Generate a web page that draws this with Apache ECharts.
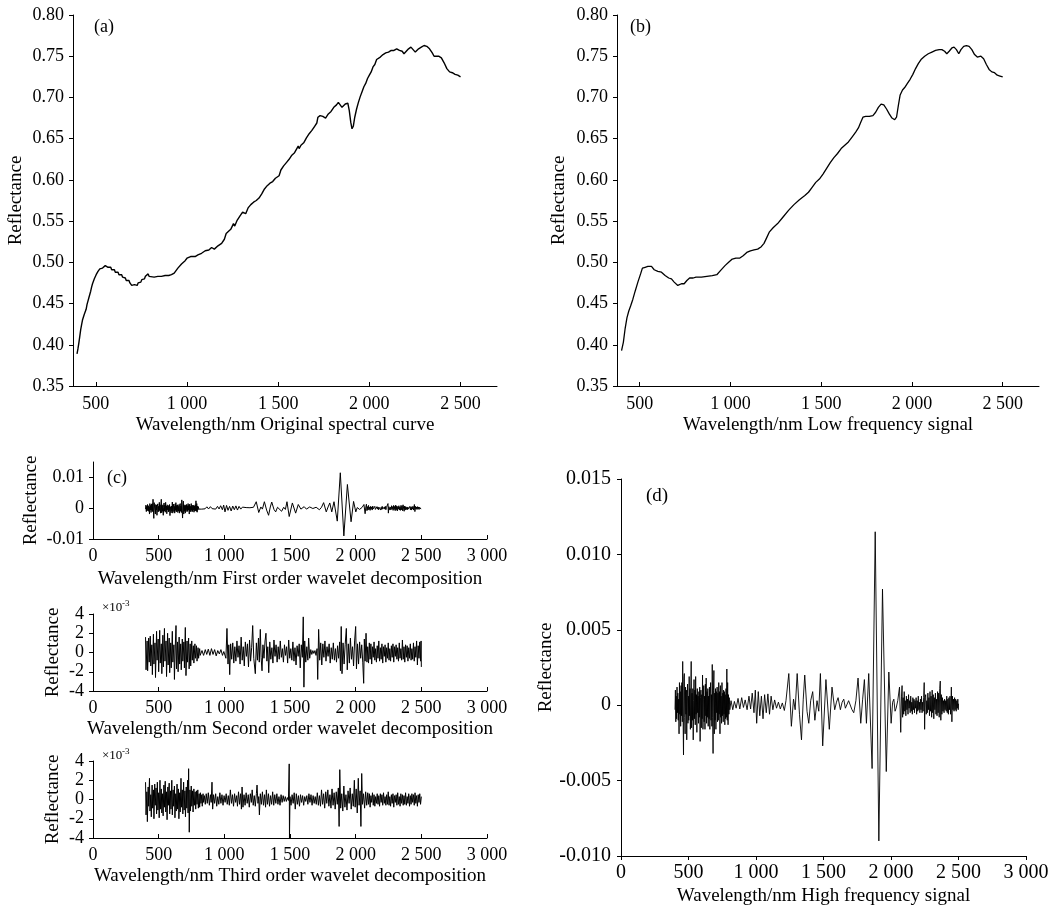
<!DOCTYPE html>
<html><head><meta charset="utf-8">
<script src="https://cdn.jsdelivr.net/npm/echarts@6/dist/echarts.min.js"></script>
<style>html,body{margin:0;padding:0;background:#fff}#chart{width:1055px;height:909px}</style>
</head><body><div id="chart"></div>
<script>
// ---------- DATA ----------
// (a) original spectral curve [wavelength nm, reflectance]
const originalCurve = [
[397,0.389],[402,0.395],[407,0.402],[412,0.410],[417,0.418],[422,0.424],[427,0.430],[432,0.432],[437,0.437],[442,0.440],[447,0.443],[452,0.449],[457,0.453],[462,0.457],[467,0.461],[472,0.465],[477,0.470],[482,0.474],[487,0.476],[492,0.480],[497,0.482],[502,0.485],[507,0.487],[512,0.489],[517,0.490],[522,0.492],[527,0.491],[532,0.494],[537,0.493],[542,0.495],[547,0.494],[552,0.496],[557,0.495],[562,0.497],[567,0.494],[572,0.495],[577,0.493],[582,0.494],[587,0.491],[592,0.492],[597,0.489],[602,0.491],[607,0.488],[612,0.489],[617,0.486],[622,0.488],[627,0.485],[632,0.486],[637,0.483],[642,0.485],[647,0.482],[652,0.483],[657,0.480],[662,0.481],[667,0.478],[672,0.480],[677,0.476],[682,0.478],[687,0.475],[692,0.476],[697,0.472],[702,0.474],[707,0.470],[712,0.473],[717,0.471],[722,0.474],[727,0.472],[732,0.475],[737,0.473],[742,0.477],[747,0.476],[752,0.479],[757,0.478],[762,0.481],[767,0.480],[772,0.483],[777,0.482],[782,0.484],[787,0.486],[792,0.483],[800,0.482],[820,0.482],[840,0.483],[860,0.483],[880,0.484],[900,0.484],[910,0.483],[915,0.485],[930,0.487],[950,0.493],[970,0.498],[990,0.502],[1000,0.505],[1010,0.504],[1020,0.507],[1030,0.505],[1045,0.507],[1060,0.509],[1080,0.511],[1100,0.514],[1120,0.515],[1135,0.518],[1150,0.516],[1170,0.520],[1190,0.523],[1205,0.528],[1215,0.535],[1225,0.537],[1240,0.540],[1255,0.547],[1262,0.544],[1275,0.551],[1290,0.556],[1305,0.561],[1315,0.563],[1322,0.559],[1335,0.566],[1350,0.570],[1365,0.573],[1380,0.575],[1395,0.578],[1410,0.583],[1425,0.589],[1440,0.593],[1455,0.596],[1470,0.598],[1485,0.602],[1495,0.604],[1505,0.605],[1515,0.612],[1530,0.617],[1545,0.621],[1560,0.625],[1575,0.630],[1590,0.633],[1600,0.635],[1610,0.641],[1615,0.638],[1625,0.642],[1640,0.645],[1655,0.651],[1670,0.656],[1685,0.660],[1700,0.665],[1712,0.669],[1718,0.676],[1730,0.678],[1745,0.677],[1760,0.675],[1775,0.680],[1790,0.683],[1805,0.688],[1820,0.691],[1830,0.694],[1840,0.692],[1850,0.688],[1860,0.686],[1868,0.692],[1875,0.690],[1882,0.693],[1890,0.684],[1898,0.670],[1905,0.662],[1912,0.665],[1920,0.676],[1930,0.686],[1940,0.694],[1950,0.701],[1960,0.707],[1970,0.713],[1980,0.717],[1990,0.723],[2000,0.727],[2010,0.731],[2020,0.737],[2030,0.740],[2040,0.746],[2050,0.746],[2060,0.749],[2075,0.752],[2090,0.754],[2105,0.755],[2120,0.757],[2135,0.757],[2150,0.759],[2165,0.757],[2180,0.756],[2190,0.753],[2200,0.755],[2215,0.759],[2228,0.761],[2240,0.758],[2252,0.755],[2260,0.754],[2270,0.759],[2285,0.761],[2300,0.763],[2315,0.762],[2330,0.759],[2345,0.754],[2355,0.750],[2365,0.749],[2380,0.750],[2395,0.748],[2410,0.742],[2425,0.735],[2440,0.731],[2455,0.730],[2470,0.728],[2485,0.727],[2500,0.725]
];
// (b) low frequency signal
const lowFreq = [
[400,0.393],[410,0.403],[420,0.420],[430,0.433],[440,0.441],[450,0.447],[455,0.447],[462,0.455],[475,0.465],[490,0.476],[505,0.486],[515,0.493],[530,0.494],[545,0.495],[555,0.497],[565,0.495],[580,0.491],[600,0.489],[620,0.488],[640,0.484],[660,0.481],[675,0.480],[690,0.476],[700,0.477],[710,0.472],[720,0.473],[730,0.474],[745,0.474],[760,0.478],[775,0.481],[785,0.483],[795,0.481],[810,0.482],[840,0.482],[870,0.483],[900,0.484],[925,0.485],[945,0.490],[970,0.496],[990,0.500],[1010,0.504],[1030,0.505],[1050,0.505],[1070,0.508],[1090,0.512],[1110,0.514],[1130,0.515],[1150,0.516],[1170,0.519],[1185,0.523],[1200,0.530],[1215,0.537],[1235,0.542],[1260,0.547],[1290,0.555],[1320,0.563],[1350,0.570],[1380,0.576],[1410,0.581],[1430,0.585],[1450,0.591],[1470,0.597],[1490,0.601],[1510,0.607],[1530,0.614],[1550,0.621],[1570,0.627],[1590,0.632],[1610,0.638],[1630,0.642],[1650,0.646],[1670,0.652],[1690,0.658],[1705,0.663],[1718,0.670],[1730,0.676],[1745,0.677],[1765,0.677],[1785,0.678],[1800,0.682],[1815,0.688],[1830,0.692],[1845,0.691],[1860,0.686],[1875,0.680],[1890,0.675],[1905,0.673],[1915,0.676],[1925,0.690],[1935,0.703],[1948,0.709],[1960,0.712],[1975,0.717],[1990,0.722],[2005,0.728],[2020,0.735],[2035,0.741],[2050,0.746],[2070,0.750],[2090,0.753],[2110,0.755],[2130,0.757],[2150,0.758],[2165,0.758],[2180,0.756],[2192,0.753],[2205,0.756],[2220,0.760],[2232,0.761],[2245,0.758],[2258,0.753],[2270,0.758],[2285,0.762],[2300,0.763],[2315,0.762],[2330,0.758],[2345,0.752],[2360,0.749],[2380,0.750],[2395,0.747],[2410,0.740],[2425,0.734],[2440,0.731],[2455,0.730],[2470,0.727],[2485,0.726],[2500,0.725]
];
// (c) first order = (d) high frequency signal, reflectance in units of 1e-3
const highFreqMilli = [
[400,-0.3],[403,1.0],[406,-1.1],[409,0.6],[412,-0.9],[415,1.2],[418,-0.5],[421,0.8],[424,-1.0],[427,0.4],[430,-1.9],[433,1.5],[436,-0.6],[439,0.9],[442,-1.4],[445,1.3],[448,-0.7],[451,1.5],[454,-1.1],[457,2.9],[460,-0.9],[463,-3.3],[466,1.8],[469,2.1],[472,-0.8],[475,-1.9],[478,1.2],[481,-0.6],[484,1.0],[487,-2.3],[490,0.5],[493,1.4],[496,-1.2],[499,0.6],[502,-1.0],[505,1.9],[508,-0.7],[511,1.1],[514,-1.6],[517,0.8],[520,2.9],[523,-1.5],[526,0.8],[529,-1.0],[532,1.1],[535,-2.3],[538,0.3],[541,1.7],[544,-0.9],[547,1.0],[550,-1.3],[553,1.9],[556,-0.6],[559,0.7],[562,-1.8],[565,1.1],[568,-0.5],[571,0.6],[574,-1.2],[577,0.9],[580,-0.8],[583,1.2],[586,-2.4],[589,0.5],[592,1.0],[595,-1.5],[598,0.7],[601,-0.9],[604,2.0],[607,-1.6],[610,0.4],[613,1.3],[616,-1.1],[619,0.6],[622,-1.6],[625,1.4],[628,-0.7],[631,1.8],[634,-1.2],[637,0.9],[640,-0.8],[643,1.1],[646,-1.4],[649,0.6],[652,-0.9],[655,1.2],[658,-1.6],[661,0.8],[664,1.5],[667,-1.0],[670,0.7],[673,-1.4],[676,2.7],[679,-0.8],[682,-3.2],[685,1.0],[688,2.3],[691,-1.9],[694,0.8],[697,-1.0],[700,1.1],[703,-1.6],[706,0.9],[709,-0.5],[712,1.2],[715,-1.1],[718,0.8],[721,-1.0],[724,1.5],[727,-0.6],[730,0.9],[733,-1.9],[736,1.3],[739,-0.8],[742,0.6],[745,-1.2],[748,1.5],[751,-0.7],[754,0.8],[757,-1.1],[760,1.0],[763,-0.6],[766,0.9],[769,-1.3],[772,0.7],[775,-0.9],[778,1.1],[781,-0.8],[784,2.4],[787,-1.0],[790,1.5],[793,-1.3],[796,0.7],[799,-0.6],[802,0.5],[806,-0.3],
[815,0.3],[828,-0.3],[840,0.25],[853,-0.2],[867,0.45],[880,-0.25],[894,0.5],[907,-0.15],[920,0.35],[934,-0.3],[948,0.6],[960,-0.25],[972,0.8],[985,-0.5],[995,1.0],[1005,-1.2],[1017,0.9],[1028,-0.7],[1040,0.6],[1052,-0.9],[1064,0.7],[1076,-0.5],[1088,0.75],[1100,-0.6],[1112,0.6],[1125,-0.3],[1138,0.35],[1152,-0.2],[1166,0.2],[1180,-0.25],[1195,0.15],[1210,-0.35],[1222,0.3],[1243,2.1],[1262,-1.4],[1278,0.4],[1290,-0.3],[1305,2.1],[1322,-0.6],[1337,-2.3],[1350,0.4],[1361,2.0],[1378,-0.4],[1391,-1.2],[1405,0.3],[1420,0.9],[1436,-1.0],[1452,0.3],[1465,-0.4],[1477,2.1],[1494,-2.7],[1518,1.7],[1543,-1.6],[1563,1.2],[1583,-0.3],[1596,0.2],[1608,0.5],[1625,-0.3],[1638,0.2],[1650,0.4],[1662,-0.2],[1674,-0.1],[1686,0.3],[1699,0.3],[1711,-0.3],[1724,-0.5],[1740,0.3],[1756,1.8],[1776,-1.2],[1790,0.4],[1803,1.7],[1818,-1.2],[1835,2.1],[1860,-4.2],[1883,11.5],[1910,-9.0],[1937,7.7],[1965,-4.4],[1984,2.2],[2001,-1.2],[2012,0.2],[2021,0.4],[2030,-0.4],[2038,-0.2],[2050,0.3],[2063,1.2],[2072,-1.8],[2078,0.6],
[2082,1.3],[2086,-0.8],[2090,0.5],[2094,-0.6],[2098,0.9],[2102,-0.4],[2106,0.3],[2110,-0.7],[2114,0.6],[2118,-0.3],[2122,0.4],[2126,-0.6],[2130,0.7],[2134,-0.2],[2138,0.3],[2142,-0.5],[2146,0.6],[2150,-0.4],[2154,0.2],[2158,-0.6],[2162,0.5],[2166,-0.3],[2170,0.4],[2174,-0.5],[2178,0.3],[2182,-0.2],[2186,0.5],[2190,-0.6],[2194,0.3],[2198,-0.4],[2202,0.6],[2206,-0.3],[2210,0.2],[2214,-0.5],[2218,0.4],[2222,-0.3],[2226,0.6],[2230,-0.5],[2234,0.2],[2238,-0.4],[2242,0.5],[2246,1.5],[2249,-1.6],[2253,0.5],[2257,0.7],[2261,-0.6],[2265,0.3],[2269,-0.5],[2273,0.8],[2277,-0.3],[2281,0.5],[2285,-0.7],[2289,0.9],[2293,-0.4],[2297,0.6],[2301,-0.8],[2305,1.0],[2309,-0.5],[2313,0.7],[2317,-0.9],[2321,0.5],[2325,-0.3],[2329,0.8],[2333,-0.6],[2337,0.4],[2341,-0.7],[2345,0.9],[2349,-0.5],[2353,0.8],[2357,-0.8],[2361,1.1],[2365,1.6],[2369,-1.0],[2373,0.7],[2377,-0.6],[2381,0.5],[2385,-0.4],[2389,0.3],[2393,-0.5],[2397,0.4],[2401,-0.3],[2405,0.3],[2409,-0.4],[2413,0.6],[2417,-0.5],[2421,0.4],[2425,-0.6],[2429,0.5],[2433,-0.3],[2437,0.6],[2441,-0.6],[2445,0.4],[2447,1.2],[2451,-1.1],[2455,0.6],[2459,-0.3],[2463,0.4],[2467,-0.4],[2471,0.5],[2475,-0.3],[2479,0.4],[2483,-0.4],[2487,0.3],[2491,-0.2],[2495,0.4],[2498,-0.3],[2500,0.1]
];
// (c) second order wavelet decomposition, x10^-3
const secondOrder = [
[400,1.6],[404,-1.8],[412,1.2],[416,-1.9],[424,1.5],[428,-1.0],[436,1.7],[440,-1.4],[448,0.8],[452,-2.3],[460,1.9],[464,-1.2],[472,1.0],[476,-2.6],[484,2.2],[488,-0.8],[496,1.4],[500,-2.0],[508,2.3],[512,-1.1],[520,0.9],[524,-2.2],[532,1.8],[536,-1.5],[544,2.5],[548,-0.9],[556,1.2],[560,-2.5],[568,2.0],[572,-1.3],[580,1.5],[584,-2.1],[592,1.0],[596,-1.6],[604,2.2],[608,-1.0],[616,0.8],[620,-2.8],[628,1.3],[632,2.8],[636,-1.7],[644,1.1],[648,-2.0],[656,1.6],[660,-1.2],[668,0.9],[672,-1.8],[680,1.4],[684,-0.9],[692,1.1],[696,-1.6],[703,2.6],[708,-2.4],[716,1.2],[720,-1.0],[728,1.5],[732,-1.7],[740,0.9],[744,-1.4],[752,1.2],[756,-0.8],[764,0.7],[768,-1.1],[776,0.9],[780,-0.6],[788,0.7],[792,-0.9],[800,0.5],[804,-0.6],[812,0.4],[816,-0.3],
[830,0.2],[842,-0.3],[855,0.3],[866,-0.2],[878,0.35],[890,-0.3],[902,0.4],[914,-0.2],[926,0.3],[938,-0.35],[950,0.2],[962,-0.15],[974,0.3],[986,-0.3],[996,0.1],
[1004,0.3],[1012,-0.6],[1020,2.5],[1028,-1.2],[1034,0.8],[1041,-2.3],[1048,0.9],[1056,-0.7],[1064,1.0],[1072,-1.1],[1080,0.6],[1088,-0.9],[1096,1.2],[1104,-0.5],[1112,0.7],[1120,-1.2],[1128,1.6],[1136,-0.8],[1144,0.6],[1152,-1.4],[1160,1.1],[1168,-0.4],[1176,0.9],[1184,-1.5],[1192,1.3],[1200,-0.9],[1208,0.5],[1216,2.8],[1224,-0.6],[1236,-2.2],[1244,1.0],[1252,-0.8],[1260,1.5],[1266,-1.0],[1274,2.4],[1280,-0.5],[1287,-1.9],[1294,0.8],[1302,-0.6],[1310,1.2],[1317,2.0],[1324,-0.9],[1331,0.6],[1338,-2.1],[1346,1.1],[1354,-0.7],[1362,0.5],[1370,-1.1],[1378,1.3],[1386,-0.4],[1394,0.8],[1402,-1.0],[1410,0.6],[1418,-0.7],[1426,1.2],[1434,-0.5],[1442,0.4],[1450,-1.0],[1458,0.8],[1466,-0.3],[1474,0.6],[1482,-1.1],[1490,1.3],[1498,-0.6],[1506,0.4],[1514,-0.8],[1522,1.1],[1530,-0.9],[1538,0.5],[1546,-1.3],[1554,0.7],[1562,-0.4],[1570,0.9],[1578,-1.6],[1586,0.8],[1594,-0.5],[1601,3.7],[1606,-3.6],[1612,1.2],[1620,-1.0],[1628,0.6],[1636,-0.8],[1642,1.5],[1650,-0.6],[1658,0.3],[1666,-0.2],[1674,0.2],[1682,-0.1],[1690,0.2],[1698,-0.3],[1706,0.4],[1711,-2.8],[1718,2.4],[1726,-0.8],[1734,1.0],[1742,-1.3],[1750,0.9],[1758,-0.5],[1766,1.2],[1774,-0.9],[1782,0.6],[1790,-0.4],[1798,0.9],[1806,-1.1],[1814,0.5],[1822,-0.7],[1830,1.0],[1838,-0.8],[1846,0.4],[1854,-1.0],[1862,0.7],[1870,-0.6],[1878,1.1],[1884,-1.9],[1890,2.7],[1896,-2.2],[1904,1.0],[1912,-1.2],[1920,0.8],[1929,2.5],[1936,-1.8],[1944,0.9],[1952,-1.1],[1960,1.5],[1968,-0.7],[1976,0.6],[1984,-1.4],[1992,1.2],[2000,2.7],[2006,-1.7],[2014,0.9],[2022,-1.2],[2030,1.1],[2038,-0.6],[2046,0.8],[2054,-1.0],[2061,-3.2],[2066,1.4],[2072,-0.9],[2079,2.0],[2086,-1.0],[2092,0.6],
[2098,-1.1],[2104,1.0],[2110,-0.7],[2116,0.9],[2122,-1.2],[2128,0.6],[2134,-0.5],[2140,1.1],[2146,-0.8],[2152,0.4],[2158,-1.0],[2164,0.7],[2170,-0.6],[2176,1.2],[2182,-0.9],[2188,0.5],[2194,-0.7],[2200,0.9],[2206,-1.1],[2212,0.6],[2218,-0.4],[2224,0.8],[2230,-1.0],[2236,0.5],[2242,-0.6],[2248,1.0],[2254,-0.8],[2260,0.4],[2266,-0.9],[2272,0.7],[2278,-0.5],[2284,0.9],[2290,-1.0],[2296,0.6],[2302,-0.4],[2308,0.8],[2314,-0.7],[2320,0.5],[2326,-0.9],[2332,1.0],[2338,-0.6],[2344,0.4],[2350,-0.8],[2356,1.3],[2362,-0.7],[2368,0.6],[2374,-1.0],[2380,0.8],[2386,-0.5],[2392,0.7],[2398,-0.9],[2404,0.5],[2410,-0.6],[2416,0.9],[2422,-0.8],[2428,0.4],[2434,-0.7],[2440,1.0],[2446,-0.9],[2452,0.6],[2458,-0.5],[2464,1.2],[2470,-1.3],[2476,0.7],[2482,-0.6],[2488,1.1],[2494,-0.9],[2498,1.2],[2500,-1.5]
];
// (c) third order wavelet decomposition, x10^-3
const thirdOrder = [
[400,1.8],[404,-1.6],[410,0.8],[414,-2.3],[420,1.3],[424,-0.7],[430,2.2],[434,-1.2],[440,0.5],[444,-1.8],[450,1.5],[454,-0.9],[460,1.0],[464,-2.0],[470,1.6],[474,-0.6],[480,1.2],[484,-1.5],[490,1.8],[494,-1.1],[500,0.7],[504,-1.9],[510,2.0],[514,-1.0],[520,1.1],[524,-1.4],[530,0.6],[534,-1.7],[540,1.5],[544,-0.8],[550,1.9],[554,-1.3],[560,0.8],[564,-2.1],[570,1.3],[574,-0.6],[580,1.7],[584,-1.5],[590,0.9],[594,-1.0],[600,2.0],[604,-1.6],[610,1.0],[614,-0.7],[620,1.4],[624,-1.9],[630,0.6],[634,-1.2],[640,1.6],[644,-1.0],[650,1.1],[654,-2.0],[660,0.7],[664,-1.3],[670,2.2],[674,-0.8],[680,1.0],[684,-1.5],[690,1.8],[694,-1.1],[700,0.9],[704,-1.8],[710,1.3],[714,-0.9],[720,2.0],[724,-1.4],[728,3.2],[733,-3.4],[738,1.0],[742,-1.2],[748,1.4],[752,-0.7],[758,0.9],[762,-1.3],[768,1.1],[772,-0.6],[778,0.8],[782,-1.0],[788,0.9],[792,-0.5],[798,1.0],[802,-0.9],[808,0.6],[812,-0.8],[818,0.7],[822,-0.4],[828,0.5],[832,-0.7],[838,0.6],[842,-0.3],[848,0.4],
[855,-0.5],[862,0.6],[870,-0.4],[878,0.7],[886,-0.6],[894,0.5],[900,-0.3],[906,1.8],[911,-1.0],[918,0.5],[926,-0.4],[934,0.6],[942,-0.7],[950,0.3],[958,-0.5],[966,0.7],[974,-0.4],[982,0.5],[990,-0.6],[998,0.4],[1006,-0.3],[1014,0.6],[1022,-0.5],[1030,0.4],[1038,-0.6],[1046,1.0],[1054,-0.4],[1062,0.5],[1070,-0.7],[1078,0.6],[1086,-0.3],[1094,0.4],[1100,-0.7],[1108,0.8],[1116,-0.5],[1124,0.6],[1130,-1.0],[1135,1.3],[1142,-0.8],[1150,0.5],[1158,-0.6],[1166,0.7],[1174,-0.4],[1182,0.5],[1190,-0.8],[1198,0.6],[1206,-0.3],[1212,1.0],[1220,-0.6],[1228,0.4],[1236,-0.7],[1244,0.6],[1249,1.5],[1256,-0.4],[1262,0.3],[1267,-1.6],[1274,0.6],[1282,-0.5],[1290,0.8],[1298,-0.6],[1306,0.5],[1314,-0.8],[1320,1.0],[1328,-0.5],[1336,0.6],[1344,-0.7],[1352,0.4],[1360,-0.5],[1368,0.8],[1376,-0.6],[1384,0.5],[1392,-0.4],[1400,0.6],[1408,-0.5],[1416,0.3],[1424,-0.6],[1432,0.5],[1440,-0.3],[1448,0.4],[1456,-0.2],[1464,0.3],[1472,-0.2],[1480,0.2],[1488,-0.1],[1494,3.7],[1496,-4.0],[1500,0.3],
[1508,-0.6],[1516,0.5],[1524,-0.4],[1532,0.7],[1540,-1.0],[1548,0.6],[1556,-0.5],[1564,0.4],[1572,-0.7],[1580,0.5],[1588,-0.3],[1596,0.4],[1604,-0.6],[1612,0.3],[1620,-0.2],[1628,0.4],[1636,-0.5],[1644,0.6],[1652,-0.3],[1660,0.5],[1668,-0.6],[1676,0.4],[1684,-0.4],[1692,0.3],[1700,-0.5],[1708,0.7],[1716,-0.6],[1724,0.4],[1732,-0.7],[1740,1.0],[1748,-0.5],[1756,0.6],[1764,-0.9],[1772,0.8],[1780,-0.4],[1788,1.0],[1796,-0.7],[1804,0.5],[1812,-0.9],[1820,1.1],[1828,-0.6],[1836,0.7],[1844,-1.0],[1852,0.8],[1860,-0.5],[1868,1.2],[1874,-2.8],[1879,3.1],[1886,-0.9],[1894,0.6],[1902,-1.2],[1910,1.4],[1918,-0.8],[1926,0.5],[1934,-1.1],[1942,0.9],[1950,-0.4],[1958,1.2],[1966,-1.0],[1974,0.6],[1982,-0.7],[1990,2.0],[1996,-0.8],[2004,1.1],[2012,-1.4],[2020,2.2],[2026,-0.6],[2034,0.9],[2040,-2.8],[2046,2.7],[2052,-0.5],[2060,0.6],[2068,-0.9],[2076,0.8],[2084,-0.6],
[2092,0.7],[2098,-0.5],[2104,0.6],[2110,-0.8],[2116,0.4],[2122,-0.3],[2128,0.7],[2134,-0.6],[2140,0.5],[2146,-0.7],[2152,0.3],[2158,-0.4],[2164,0.6],[2170,-0.5],[2176,0.4],[2182,-0.7],[2188,0.6],[2194,-0.3],[2200,0.5],[2206,-0.6],[2212,0.7],[2218,-0.4],[2224,0.3],[2230,-0.6],[2236,0.5],[2242,-0.5],[2248,0.8],[2254,-0.6],[2260,0.3],[2266,-0.7],[2272,0.5],[2278,-0.4],[2284,0.6],[2290,-0.8],[2296,0.4],[2302,-0.3],[2308,0.5],[2314,-0.6],[2320,0.7],[2326,-0.5],[2332,0.3],[2338,-0.7],[2344,0.6],[2350,-0.4],[2356,0.5],[2362,-0.6],[2368,0.4],[2374,-0.5],[2380,0.7],[2386,-0.6],[2392,0.3],[2398,-0.4],[2404,0.6],[2410,-0.7],[2416,0.4],[2422,-0.5],[2428,0.6],[2434,-0.3],[2440,0.5],[2446,-0.6],[2452,0.7],[2458,-0.4],[2464,0.4],[2470,-0.7],[2476,0.5],[2482,-0.3],[2488,0.6],[2494,-0.5],[2500,0.3]
];
// tick values / labels
const xTicksAB = [500, 1000, 1500, 2000, 2500];
const c1YTicks = [-10, 0, 10];
const c1YLabels = ['-0.01', '0', '0.01'];
const dYTicks = [-10, -5, 0, 5, 10, 15];
const dYLabels = ['-0.010', '-0.005', '0', '0.005', '0.010', '0.015'];
const xNames = ['Wavelength/nm Original spectral curve', 'Wavelength/nm Low frequency signal',
  'Wavelength/nm First order wavelet decomposition', 'Wavelength/nm Second order wavelet decomposition',
  'Wavelength/nm Third order wavelet decomposition', 'Wavelength/nm High frequency signal'];
const yName = 'Reflectance';

// ---------- CHART ----------
const FONT = '"Liberation Serif", "Times New Roman", serif';
const FS = 18;
const txt = { color: '#000', fontFamily: FONT, fontSize: FS };
const nameTxt = { color: '#000', fontFamily: FONT, fontSize: 19 };
const dTxt = { color: '#000', fontFamily: FONT, fontSize: 20 };
const thou = v => v >= 1000 ? Math.floor(v / 1000) + ' ' + String(v % 1000).padStart(3, '0') : String(v);
const axLine = { show: true, onZero: false, lineStyle: { color: '#000', width: 1 } };
const tickStyle = { color: '#000', width: 1 };

const grids = [
  { left: 73, top: 15, width: 424, height: 371 },
  { left: 617, top: 15, width: 422, height: 371 },
  { left: 93, top: 462, width: 394, height: 77 },
  { left: 93, top: 614, width: 394, height: 77 },
  { left: 93, top: 761, width: 394, height: 77 },
  { left: 621, top: 479, width: 405, height: 377 }
];
function xAx(i, cfg) {
  return Object.assign({
    type: 'value', gridIndex: i, axisLine: axLine, splitLine: { show: false },
    name: xNames[i], nameLocation: 'middle', nameTextStyle: nameTxt,
    axisLabel: Object.assign({ formatter: thou, margin: 8 }, txt),
    axisTick: { inside: true, length: 4, lineStyle: tickStyle }
  }, cfg);
}
function yAx(i, cfg) {
  return Object.assign({
    type: 'value', gridIndex: i, axisLine: axLine, splitLine: { show: false },
    name: yName, nameLocation: 'middle', nameTextStyle: nameTxt,
    axisLabel: Object.assign({ margin: 9 }, txt),
    axisTick: { inside: false, length: 4, lineStyle: tickStyle }
  }, cfg);
}
const xAxes = [
  xAx(0, { min: 375, max: 2700, nameGap: 30, axisLabel: Object.assign({ formatter: thou, margin: 9, customValues: xTicksAB }, txt), axisTick: { inside: true, length: 4, customValues: xTicksAB, lineStyle: tickStyle } }),
  xAx(1, { min: 375, max: 2700, nameGap: 30, axisLabel: Object.assign({ formatter: thou, margin: 9, customValues: xTicksAB }, txt), axisTick: { inside: true, length: 4, customValues: xTicksAB, lineStyle: tickStyle } }),
  xAx(2, { min: 0, max: 3000, interval: 500, nameGap: 31 }),
  xAx(3, { min: 0, max: 3000, interval: 500, nameGap: 29 }),
  xAx(4, { min: 0, max: 3000, interval: 500, nameGap: 29 }),
  xAx(5, { min: 0, max: 3000, interval: 500, nameGap: 31, axisLabel: Object.assign({ formatter: thou, margin: 7 }, dTxt), axisTick: { inside: false, length: 4, lineStyle: tickStyle } })
];
const yAxes = [
  yAx(0, { min: 0.35, max: 0.80, interval: 0.05, nameGap: 47, axisLabel: Object.assign({ margin: 9, formatter: v => v.toFixed(2) }, txt) }),
  yAx(1, { min: 0.35, max: 0.80, interval: 0.05, nameGap: 48, axisLabel: Object.assign({ margin: 9, formatter: v => v.toFixed(2) }, txt) }),
  yAx(2, { min: -10, max: 15, nameGap: 52,
    axisLabel: Object.assign({ margin: 9, customValues: c1YTicks, formatter: v => c1YLabels[c1YTicks.indexOf(v)] }, txt),
    axisTick: { length: 4, customValues: c1YTicks, lineStyle: tickStyle } }),
  yAx(3, { min: -4, max: 4, interval: 2, nameGap: 30 }),
  yAx(4, { min: -4, max: 4, interval: 2, nameGap: 30 }),
  yAx(5, { min: -10, max: 15, interval: 5, nameGap: 60,
    axisLabel: Object.assign({ margin: 10, formatter: v => dYLabels[dYTicks.indexOf(v)] }, dTxt) })
];
const datasets = [originalCurve, lowFreq, highFreqMilli, secondOrder, thirdOrder, highFreqMilli];
const widths = [1.4, 1.3, 1, 1, 1, 0.9];
const series = datasets.map((d, i) => ({
  type: 'line', xAxisIndex: i, yAxisIndex: i, data: d, showSymbol: false, symbol: 'none',
  lineStyle: { color: '#000', width: widths[i] }, silent: true, clip: false
}));
const tfont = FS + 'px ' + FONT;
const graphic = [
  { type: 'text', x: 94, y: 27, style: { text: '(a)', font: tfont, fill: '#000', verticalAlign: 'middle' } },
  { type: 'text', x: 630, y: 27, style: { text: '(b)', font: tfont, fill: '#000', verticalAlign: 'middle' } },
  { type: 'text', x: 107, y: 478, style: { text: '(c)', font: tfont, fill: '#000', verticalAlign: 'middle' } },
  { type: 'text', x: 646, y: 496, style: { text: '(d)', font: '19px ' + FONT, fill: '#000', verticalAlign: 'middle' } },
  { type: 'text', x: 102, y: 608, style: { text: '×10', font: '13px ' + FONT, fill: '#000', verticalAlign: 'middle' } },
  { type: 'text', x: 122, y: 604, style: { text: '-3', font: '9px ' + FONT, fill: '#000', verticalAlign: 'middle' } },
  { type: 'text', x: 102, y: 756, style: { text: '×10', font: '13px ' + FONT, fill: '#000', verticalAlign: 'middle' } },
  { type: 'text', x: 122, y: 752, style: { text: '-3', font: '9px ' + FONT, fill: '#000', verticalAlign: 'middle' } }
];
const chart = echarts.init(document.getElementById('chart'), null, { renderer: 'canvas' });
chart.setOption({
  backgroundColor: '#fff', animation: false,
  grid: grids, xAxis: xAxes, yAxis: yAxes, series: series, graphic: graphic
});
</script></body></html>
